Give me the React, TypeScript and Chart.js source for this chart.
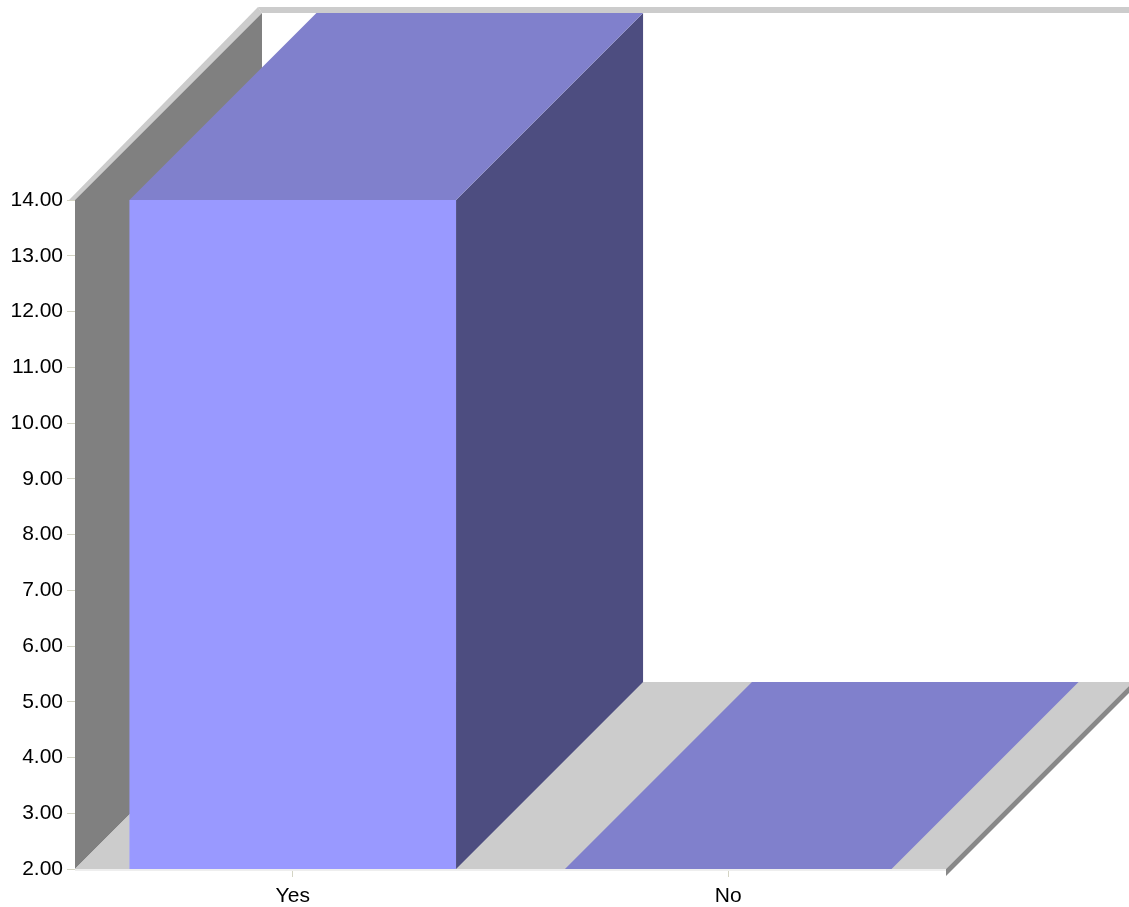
import React, { useEffect, useRef } from "react";
import { Chart, registerables } from "chart.js";

Chart.register(...registerables);

const categories = ["Yes", "No"];
const values = [14, 2];
const yMin = 2;
const yMax = 14;
const yStep = 1;

const DEPTH = 187;
const FRONT = "#9999ff";
const TOP = "#8080cc";
const SIDE = "#4d4d80";
const WALL = "#808080";
const FLOOR = "#cccccc";
const EDGE = "#888888";

const poly = (ctx: CanvasRenderingContext2D, pts: number[][], fill: string) => {
  ctx.beginPath();
  ctx.moveTo(pts[0][0], pts[0][1]);
  for (let i = 1; i < pts.length; i++) ctx.lineTo(pts[i][0], pts[i][1]);
  ctx.closePath();
  ctx.fillStyle = fill;
  ctx.fill();
};

const box3d = {
  id: "box3d",
  beforeDatasetsDraw(chart: any) {
    const { ctx, chartArea: a } = chart;
    const d = DEPTH;
    ctx.save();
    poly(ctx, [[a.left + d - 4, a.top - d - 6], [chart.width, a.top - d - 6], [chart.width, a.top - d], [a.left + d, a.top - d]], FLOOR);
    poly(ctx, [[a.left - 6, a.top], [a.left + d - 4, a.top - d - 6], [a.left + d, a.top - d], [a.left, a.top]], FLOOR);
    poly(ctx, [[a.left, a.top], [a.left + d, a.top - d], [a.left + d, a.bottom - d], [a.left, a.bottom]], WALL);
    poly(ctx, [[a.left, a.bottom], [a.right, a.bottom], [a.right + d, a.bottom - d], [a.left + d, a.bottom - d]], FLOOR);
    poly(ctx, [[a.right, a.bottom], [a.right + d, a.bottom - d], [a.right + d, a.bottom - d + 7], [a.right, a.bottom + 7]], EDGE);
    ctx.fillStyle = "#eeeeee";
    ctx.fillRect(a.left, a.bottom, a.right - a.left, 2);
    ctx.restore();
  },
  afterDatasetsDraw(chart: any) {
    const { ctx, chartArea: a } = chart;
    const d = DEPTH;
    ctx.save();
    chart.getDatasetMeta(0).data.forEach((el: any) => {
      const l = el.x - el.width / 2;
      const r = el.x + el.width / 2;
      const t = Math.min(el.y, a.bottom);
      const b = Math.min(el.base, a.bottom);
      if (b > t) poly(ctx, [[r, t], [r + d, t - d], [r + d, b - d], [r, b]], SIDE);
      poly(ctx, [[l, t], [r, t], [r + d, t - d], [l + d, t - d]], TOP);
    });
    ctx.restore();
  },
};

export default function App() {
  const ref = useRef<HTMLCanvasElement>(null);
  useEffect(() => {
    document.body.style.margin = "0";
    const font = { family: "'Liberation Sans', Arial, sans-serif", size: 21 };
    const chart = new Chart(ref.current!, {
      type: "bar",
      data: {
        labels: categories,
        datasets: [
          {
            data: values,
            backgroundColor: FRONT,
            borderWidth: 0,
            barPercentage: 0.75,
            categoryPercentage: 1,
          },
        ],
      },
      options: {
        responsive: false,
        animation: false,
        layout: { padding: { top: 200, right: 183, left: 0, bottom: 0 } },
        plugins: { legend: { display: false }, tooltip: { enabled: false } },
        scales: {
          y: {
            min: yMin,
            max: yMax,
            afterFit: (s: any) => { s.width = 75; },
            ticks: {
              stepSize: yStep,
              color: "#000",
              font,
              padding: 4,
              callback: (v: any) => Number(v).toFixed(2),
            },
            grid: { drawOnChartArea: false, drawTicks: true, tickLength: 8, color: "#d4d4c4" },
            border: { display: false },
          },
          x: {
            afterFit: (s: any) => { s.height = 38; },
            ticks: { color: "#000", font, padding: 7 },
            grid: { drawOnChartArea: false, drawTicks: true, tickLength: 8, color: "#d4d4c4", offset: false },
            border: { display: false },
          },
        },
      },
      plugins: [box3d],
    });
    return () => chart.destroy();
  }, []);
  return (
    <div style={{ width: 1129, height: 907 }}>
      <canvas ref={ref} width={1129} height={907} />
    </div>
  );
}
